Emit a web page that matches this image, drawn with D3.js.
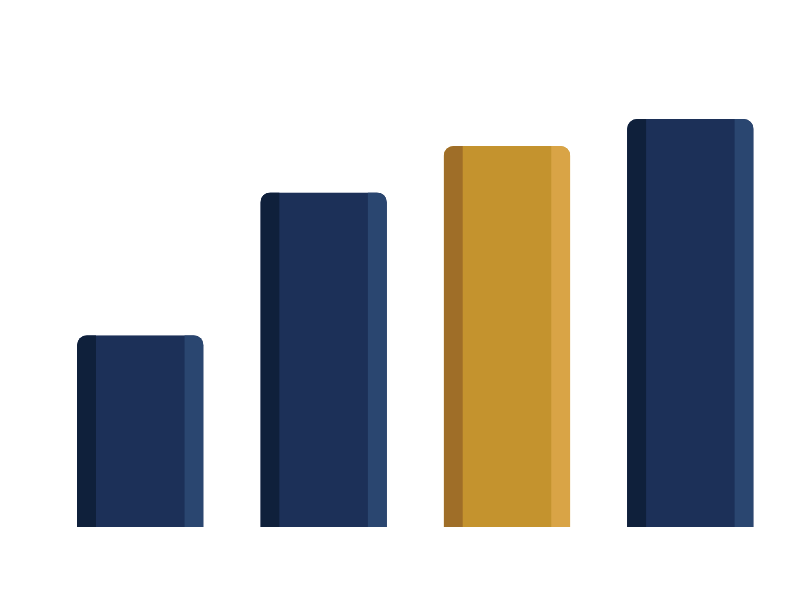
<!DOCTYPE html>
<html lang="en">
<head>
    <meta charset="UTF-8">
    <title>Bar chart</title>
    <style>
        html, body {
            margin: 0;
            padding: 0;
            background-color: #ffffff;
        }
    </style>
</head>
<body>
    <div id="chart"></div>
    <script src="https://d3js.org/d3.v7.min.js"></script>
    <script>
        const width = 797;
        const height = 598;

        // data (no axis shown, so relative units)
        const categories = ["A", "B", "C", "D"];
        const values = [47, 82, 93.4, 100];
        const highlight = ["C"];

        const palette = {
            normal: { main: "#1c3058", dark: "#0f203b", light: "#2a4670" },
            highlight: { main: "#c4932e", dark: "#9f6e28", light: "#d9a446" }
        };

        const svg = d3.select("#chart")
            .append("svg")
            .attr("width", width)
            .attr("height", height);

        const x = d3.scaleBand()
            .domain(categories)
            .range([48.6, 782])
            .paddingInner(0.31)
            .paddingOuter(0.155);

        const y = d3.scaleLinear()
            .domain([0, 100])
            .range([527, 119]);

        const r = 10;
        const bw = x.bandwidth();
        const strip = bw * 0.15;

        // rounded top corners, square bottom
        function barPath(x0, y0, w, h) {
            return `M${x0},${y0 + h}V${y0 + r}A${r},${r} 0 0 1 ${x0 + r},${y0}` +
                `H${x0 + w - r}A${r},${r} 0 0 1 ${x0 + w},${y0 + r}V${y0 + h}Z`;
        }

        const bars = categories.map((c, i) => ({ cat: c, value: values[i] }));

        const defs = svg.append("defs");
        defs.selectAll("clipPath")
            .data(bars).enter()
            .append("clipPath")
            .attr("id", (d, i) => "clip" + i)
            .append("path")
            .attr("d", d => barPath(x(d.cat), y(d.value), bw, y(0) - y(d.value)));

        const g = svg.selectAll("g.bar")
            .data(bars).enter()
            .append("g")
            .attr("class", "bar")
            .attr("clip-path", (d, i) => `url(#clip${i})`);

        const col = d => highlight.includes(d.cat) ? palette.highlight : palette.normal;

        g.append("rect")
            .attr("x", d => x(d.cat))
            .attr("y", d => y(d.value))
            .attr("width", bw)
            .attr("height", d => y(0) - y(d.value))
            .attr("fill", d => col(d).main);

        g.append("rect")
            .attr("x", d => x(d.cat))
            .attr("y", d => y(d.value))
            .attr("width", strip)
            .attr("height", d => y(0) - y(d.value))
            .attr("fill", d => col(d).dark);

        g.append("rect")
            .attr("x", d => x(d.cat) + bw - strip)
            .attr("y", d => y(d.value))
            .attr("width", strip)
            .attr("height", d => y(0) - y(d.value))
            .attr("fill", d => col(d).light);
    </script>
</body>
</html>
